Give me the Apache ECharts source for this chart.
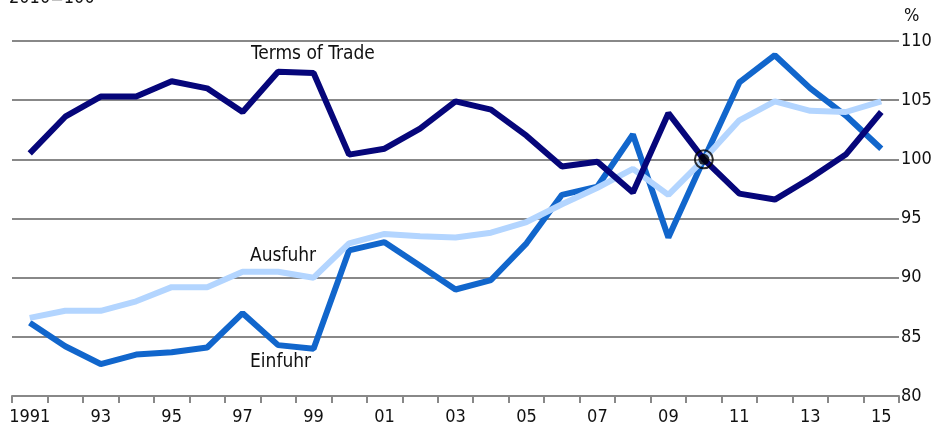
<!DOCTYPE html>
<html>
<head>
<meta charset="utf-8">
<script src="https://cdn.jsdelivr.net/npm/echarts@6/dist/echarts.min.js"></script>
<style>
html,body{margin:0;padding:0;background:#fff;}
#main{width:936px;height:429px;}
</style>
</head>
<body>
<div id="main"></div>
<script>
// Jahre 1991-2015, 2010=100
var years = ['1991','1992','1993','1994','1995','1996','1997','1998','1999','2000','2001','2002','2003',
  '2004','2005','2006','2007','2008','2009','2010','2011','2012','2013','2014','2015'];
var termsOfTrade = [100.5,103.6,105.3,105.3,106.6,106.0,104.0,107.4,107.3,100.4,100.9,102.6,104.9,
  104.2,102.0,99.4,99.8,97.2,103.9,100.0,97.1,96.6,98.4,100.4,104.0];
var einfuhr = [86.2,84.2,82.7,83.5,83.7,84.1,87.0,84.3,84.0,92.3,93.0,91.0,89.0,
  89.8,92.9,97.0,97.7,102.1,93.4,100.0,106.5,108.8,106.0,103.7,100.9];
var ausfuhr = [86.6,87.2,87.2,88.0,89.2,89.2,90.5,90.5,90.0,92.9,93.7,93.5,93.4,
  93.8,94.7,96.2,97.6,99.2,97.0,100.0,103.3,104.9,104.1,104.0,104.9];
var basisPunkt = [['2010', 100]];

var font = '"DejaVu Sans Condensed", "Liberation Sans Narrow", "DejaVu Sans"';
var myChart = echarts.init(document.getElementById('main'));
var option = {
  animation: false,
  backgroundColor: '#fff',
  grid: {left: 12, right: 37, top: 41, bottom: 33},
  xAxis: {
    type: 'category',
    data: years,
    boundaryGap: true,
    axisLine: {lineStyle: {color: '#888', width: 2}},
    axisTick: {show: true, interval: 0, length: 7, lineStyle: {color: '#888', width: 2}},
    axisLabel: {
      interval: 1, margin: 12, color: '#111', fontFamily: font, fontSize: 18,
      formatter: function (v, i) { return i === 0 ? v : v.slice(2); }
    },
    splitLine: {show: false}
  },
  yAxis: {
    type: 'value',
    position: 'right',
    min: 80, max: 110, interval: 5,
    axisLine: {show: false},
    axisTick: {show: false},
    axisLabel: {margin: 2, color: '#111', fontFamily: font, fontSize: 18},
    splitLine: {lineStyle: {color: '#888', width: 2}}
  },
  graphic: [
    {type: 'text', left: 9, top: -11, style: {text: '2010=100', fill: '#111', font: '18px ' + font}},
    {type: 'text', left: 904, top: 7, style: {text: '%', fill: '#111', font: '18px ' + font}},
    {type: 'text', left: 251, top: 45, style: {text: 'Terms of Trade', fill: '#111', font: '19px ' + font}},
    {type: 'text', left: 250, top: 247, style: {text: 'Ausfuhr', fill: '#111', font: '19px ' + font}},
    {type: 'text', left: 250, top: 353, style: {text: 'Einfuhr', fill: '#111', font: '19px ' + font}}
  ],
  series: [
    {name: 'Einfuhr', type: 'line', data: einfuhr, symbol: 'none',
      lineStyle: {color: '#1166cc', width: 6}},
    {name: 'Ausfuhr', type: 'line', data: ausfuhr, symbol: 'none',
      lineStyle: {color: '#b3d5ff', width: 6}},
    {name: 'Terms of Trade', type: 'line', data: termsOfTrade, symbol: 'none',
      lineStyle: {color: '#06067a', width: 6}},
    {type: 'scatter', data: basisPunkt, symbol: 'circle', symbolSize: 18, z: 5,
      itemStyle: {color: 'rgba(0,0,0,0)', borderColor: '#000', borderWidth: 2}},
    {type: 'scatter', data: basisPunkt, symbol: 'circle', symbolSize: 11, z: 5,
      itemStyle: {color: '#000'}}
  ]
};
myChart.setOption(option);
</script>
</body>
</html>
